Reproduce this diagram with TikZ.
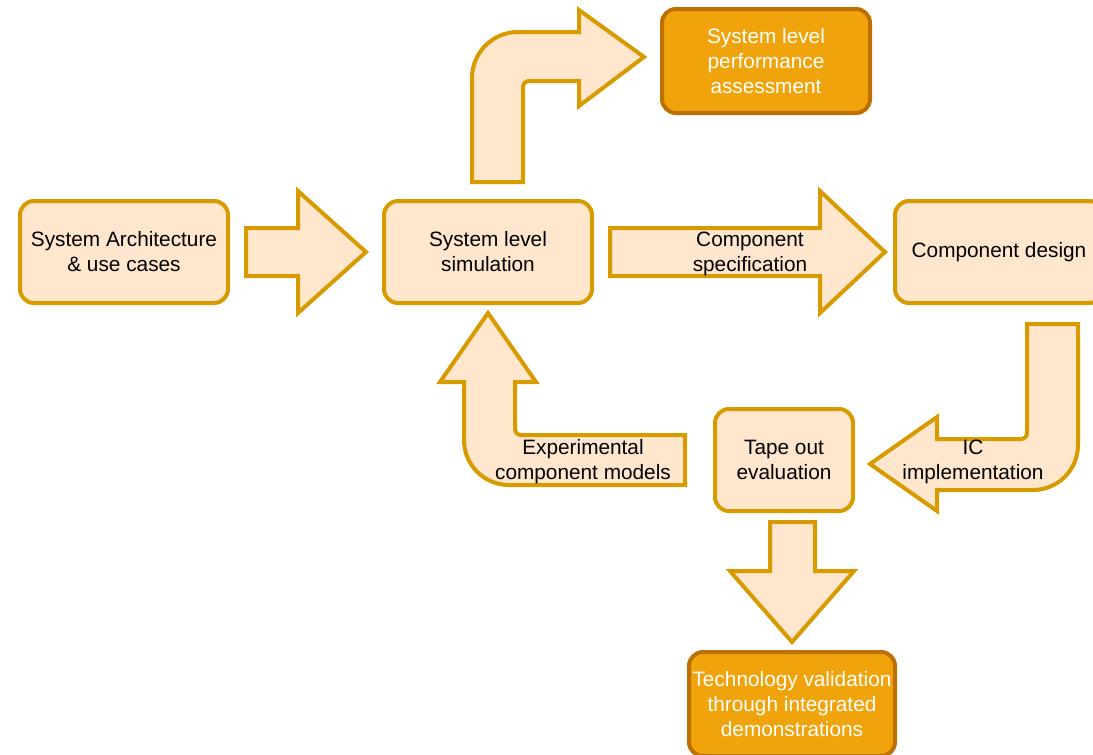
\documentclass[tikz,border=0pt]{standalone}
\usepackage{fontspec}
\setmainfont{Liberation Sans}
\definecolor{lightfill}{HTML}{FFE6CC}
\definecolor{lightline}{HTML}{D79B00}
\definecolor{darkfill}{HTML}{F0A30A}
\definecolor{darkline}{HTML}{BD7000}
\newcommand{\lblfont}{\fontsize{20.8}{25}\selectfont}
\tikzset{
  stagebox/.style={rectangle, rounded corners=14pt, draw=lightline, fill=lightfill,
    line width=4pt, align=center, inner sep=0pt, font=\lblfont, text=black},
  outcomebox/.style={stagebox, draw=darkline, fill=darkfill, text=white},
  blockarrow/.style={draw=lightline, fill=lightfill, line width=4pt, line join=miter, miter limit=10},
  arrowlabel/.style={align=center, inner sep=0pt, font=\lblfont, text=black}
}
\begin{document}
\begin{tikzpicture}[x=1pt, y=-1pt]
\useasboundingbox (0,0) rectangle (1093,755);
\clip (0,0) rectangle (1093,755);

% stage boxes
\node[stagebox, minimum width=208pt, minimum height=102pt] (arch) at (124,252) {System Architecture\\\& use cases};
\node[stagebox, minimum width=208pt, minimum height=102pt] (sim) at (488,252) {System level\\simulation};
\node[stagebox, minimum width=208pt, minimum height=102pt] (design) at (999,252) {Component design};
\node[stagebox, minimum width=138pt, minimum height=102pt] (tape) at (784,460) {Tape out\\evaluation};

% outcome boxes
\node[outcomebox, minimum width=208pt, minimum height=104pt] (perf) at (766,61) {System level\\performance\\assessment};
\node[outcomebox, minimum width=206pt, minimum height=104pt] (demo) at (792,704) {Technology validation\\through integrated\\demonstrations};

% straight arrow: architecture -> simulation
\draw[blockarrow] (246,228) -- (298,228) -- (298,191) -- (366,252) -- (298,313) -- (298,276) -- (246,276) -- cycle;

% straight arrow: simulation -> component design
\draw[blockarrow] (610,228) -- (820,228) -- (820,191) -- (885,252) -- (820,313) -- (820,276) -- (610,276) -- cycle;
\node[arrowlabel] (spec) at (750,254) {Component\\specification};

% bent arrow: simulation -> performance assessment
\draw[blockarrow] (472,182) -- (472,78) arc[start angle=180, end angle=270, radius=46]
  -- (579,32) -- (579,10) -- (644,57) -- (579,106) -- (579,81) -- (529,81)
  arc[start angle=270, end angle=180, radius=6] -- (523,182) -- cycle;

% bent arrow: component design -> tape out
\draw[blockarrow] (1027,324) -- (1078,324) -- (1078,445) arc[start angle=0, end angle=90, radius=45]
  -- (937,490) -- (937,511) -- (870,464) -- (937,417) -- (937,439) -- (1021,439)
  arc[start angle=90, end angle=0, radius=6] -- cycle;
\node[arrowlabel] (impl) at (973,462) {IC\\implementation};

% bent arrow: tape out -> simulation
\draw[blockarrow] (685,435) -- (521,435) arc[start angle=90, end angle=180, radius=6]
  -- (515,382) -- (536,382) -- (488,313) -- (440,382) -- (464,382) -- (464,440)
  arc[start angle=180, end angle=90, radius=45] -- (685,485) -- cycle;
\node[arrowlabel] (models) at (583,462) {Experimental\\component models};

% straight arrow: tape out -> demonstrations
\draw[blockarrow] (770,522) -- (815,522) -- (815,571) -- (854,571) -- (792,642) -- (730,571) -- (770,571) -- cycle;
\end{tikzpicture}
\end{document}
